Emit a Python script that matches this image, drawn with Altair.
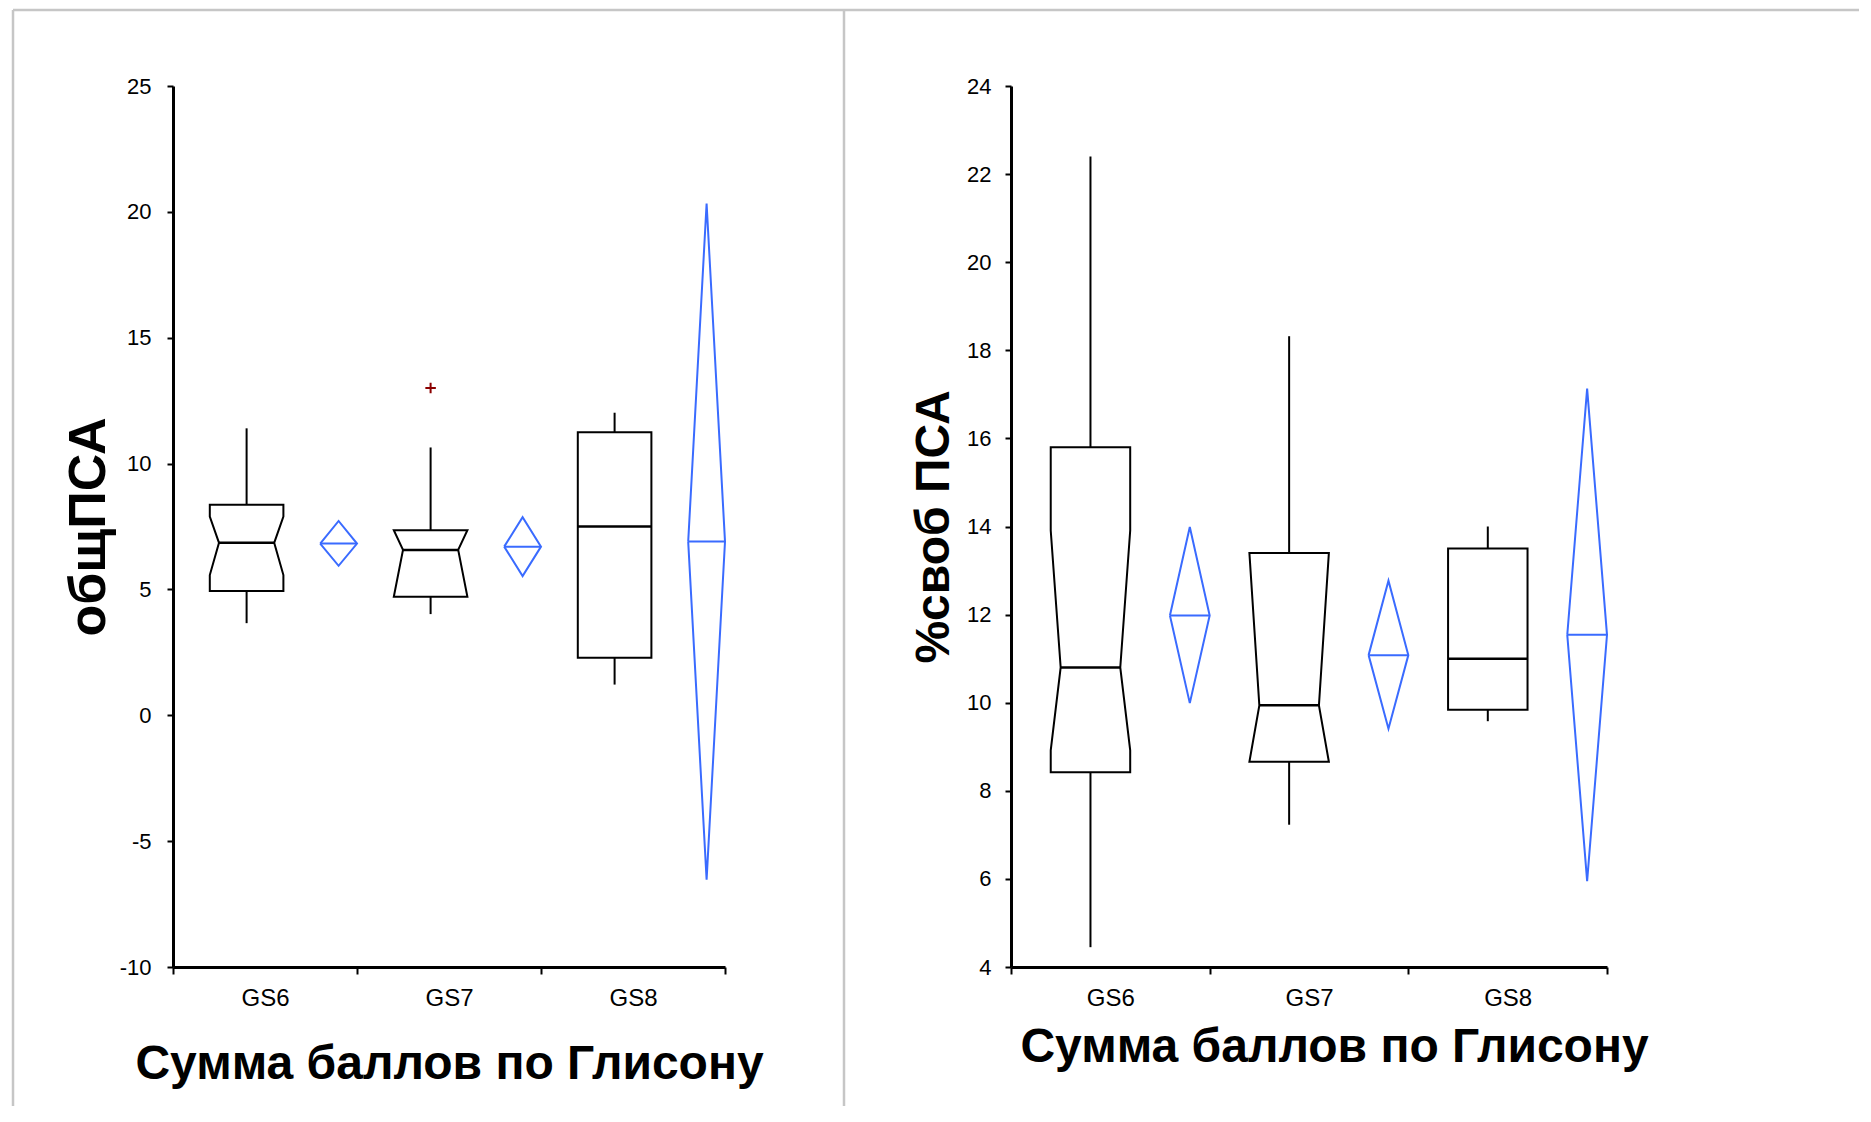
import altair as alt
import pandas as pd

FONT = "Liberation Sans"
BLUE = "#3a6bff"
DARKRED = "#8b0000"
FRAME = "#c6c6c6"

categories = ["GS6", "GS7", "GS8"]
x_title = "Сумма баллов по Глисону"

# ---- Panel 1: общПСА ----
tot_title = "общПСА"
tot_ticks = [-10, -5, 0, 5, 10, 15, 20, 25]
tot_domain = [-10, 25]
tot_q1 = [4.94, 4.71, 2.29]
tot_q3 = [8.36, 7.35, 11.24]
tot_median = [6.85, 6.57, 7.50]
tot_notch_lo = [5.57, 4.71, 7.50]
tot_notch_hi = [7.89, 7.35, 7.50]
tot_notched = [True, True, False]
tot_whisker_lo = [3.66, 4.02, 1.22]
tot_whisker_hi = [11.40, 10.64, 12.02]
tot_mean = [6.82, 6.70, 6.90]
tot_ci_lo = [5.94, 5.53, -6.53]
tot_ci_hi = [7.72, 7.87, 20.33]
tot_outlier_cat = ["GS7"]
tot_outlier_val = [13.0]

# ---- Panel 2: %своб ПСА ----
free_title = "%своб ПСА"
free_ticks = [4, 6, 8, 10, 12, 14, 16, 18, 20, 22, 24]
free_domain = [4, 24]
free_q1 = [8.42, 8.66, 9.84]
free_q3 = [15.80, 13.40, 13.50]
free_median = [10.80, 9.94, 11.00]
free_notch_lo = [8.92, 8.66, 11.00]
free_notch_hi = [13.91, 13.40, 11.00]
free_notched = [True, True, False]
free_whisker_lo = [4.45, 7.23, 9.58]
free_whisker_hi = [22.40, 18.32, 14.00]
free_mean = [11.98, 11.08, 11.54]
free_ci_lo = [9.99, 9.41, 5.95]
free_ci_hi = [13.99, 12.77, 17.13]
free_outlier_cat = []
free_outlier_val = []

# layout fractions within each category band
BOX_L, BOX_C, BOX_R, NOTCH = 0.2, 0.4, 0.6, 0.05
DIA_L, DIA_C, DIA_R = 0.8, 0.9, 1.0


def dedupe(pts):
    out = []
    for p in pts:
        if not out or out[-1] != p:
            out.append(p)
    return out


def build_frames(q1, q3, med, nlo, nhi, notched, wlo, whi, mean, clo, chi, ocat, oval):
    poly, medl, whisk, dia, meanl = [], [], [], [], []
    for i, c in enumerate(categories):
        L, C, R = i + BOX_L, i + BOX_C, i + BOX_R
        if notched[i]:
            pts = [(C, q1[i]), (L, q1[i]), (L, nlo[i]), (L + NOTCH, med[i]), (L, nhi[i]),
                   (L, q3[i]), (R, q3[i]), (R, nhi[i]), (R - NOTCH, med[i]), (R, nlo[i]),
                   (R, q1[i]), (C, q1[i])]
            medl.append({"cat": c, "x1": L + NOTCH, "x2": R - NOTCH, "y": med[i]})
        else:
            pts = [(C, q1[i]), (L, q1[i]), (L, q3[i]), (R, q3[i]), (R, q1[i]), (C, q1[i])]
            medl.append({"cat": c, "x1": L, "x2": R, "y": med[i]})
        for k, (x, y) in enumerate(dedupe(pts)):
            poly.append({"cat": c, "k": k, "x": x, "y": y})
        whisk.append({"cat": c, "x": C, "y1": q3[i], "y2": whi[i]})
        whisk.append({"cat": c, "x": C, "y1": q1[i], "y2": wlo[i]})
        dpts = [(i + DIA_L, mean[i]), (i + DIA_C, chi[i]), (i + DIA_R, mean[i]),
                (i + DIA_C, clo[i]), (i + DIA_L, mean[i])]
        for k, (x, y) in enumerate(dpts):
            dia.append({"cat": c, "k": k, "x": x, "y": y})
        meanl.append({"cat": c, "x1": i + DIA_L, "x2": i + DIA_R, "y": mean[i]})
    outl = [{"x": categories.index(c) + BOX_C, "y": v} for c, v in zip(ocat, oval)]
    return (pd.DataFrame(poly), pd.DataFrame(medl), pd.DataFrame(whisk),
            pd.DataFrame(dia), pd.DataFrame(meanl), pd.DataFrame(outl, columns=["x", "y"]))


def panel(width, height, ytitle, yticks, ydomain, stats, ytitle_size, ytitle_x,
          ylabel_pad, xtitle_x, xtitle_y, frame_rules):
    poly, medl, whisk, dia, meanl, outl = build_frames(*stats)
    xvals = [0, 0.5, 1, 1.5, 2, 2.5, 3]
    label_expr = " : ".join(
        [f"datum.value == {i + 0.5} ? '{c}'" for i, c in enumerate(categories)]) + " : ''"
    x_axis = alt.Axis(
        values=xvals, labelExpr=label_expr, grid=False,
        tickOpacity={"condition": {"test": "datum.value % 1 != 0", "value": 0}, "value": 1},
        tickSize=7, tickWidth=2, tickColor="black", domainColor="black", domainWidth=3,
        labelFont=FONT, labelFontSize=24, labelColor="black", labelBaseline="alphabetic",
        labelPadding=31, labelOverlap=False, labelFlush=False, labelLimit=500,
        title=x_title, titleFont=FONT, titleFontSize=48, titleFontWeight="bold",
        titleColor="black", titleX=xtitle_x, titleY=xtitle_y, titleBaseline="alphabetic",
        titleAlign="center", titleLimit=2000)
    y_axis = alt.Axis(
        values=yticks, labelExpr="toString(datum.value)", grid=False, tickSize=6,
        tickWidth=2, tickColor="black",
        domainColor="black", domainWidth=3, labelFont=FONT, labelFontSize=22,
        labelColor="black", labelPadding=ylabel_pad, labelOverlap=False, labelFlush=False,
        title=ytitle, titleFont=FONT, titleFontSize=ytitle_size, titleFontWeight="bold",
        titleColor="black", titleAngle=270, titleX=ytitle_x, titleY=height / 2,
        titleBaseline="alphabetic", titleAlign="center", titleLimit=2000)
    xs = alt.Scale(domain=[0, 3], nice=False, zero=False)
    ys = alt.Scale(domain=ydomain, nice=False, zero=False)

    def X(f):
        return alt.X(f"{f}:Q", scale=xs, axis=x_axis)

    def Y(f):
        return alt.Y(f"{f}:Q", scale=ys, axis=y_axis)

    boxes = alt.Chart(poly).mark_line(color="black", strokeWidth=2).encode(
        x=X("x"), y=Y("y"), detail="cat:N", order="k:Q")
    medians = alt.Chart(medl).mark_rule(color="black", strokeWidth=2.5).encode(
        x=X("x1"), x2="x2", y=Y("y"))
    whiskers = alt.Chart(whisk).mark_rule(color="black", strokeWidth=2).encode(
        x=X("x"), y=Y("y1"), y2="y2")
    diamonds = alt.Chart(dia).mark_line(color=BLUE, strokeWidth=2).encode(
        x=X("x"), y=Y("y"), detail="cat:N", order="k:Q")
    means = alt.Chart(meanl).mark_rule(color=BLUE, strokeWidth=2).encode(
        x=X("x1"), x2="x2", y=Y("y"))
    layers = [boxes, medians, whiskers, diamonds, means]
    if len(outl):
        layers.append(alt.Chart(outl).mark_point(
            shape="M-1,0L1,0M0,-1L0,1", filled=False, color=DARKRED, strokeWidth=2,
            size=110, opacity=1).encode(x=X("x"), y=Y("y")))
    one = pd.DataFrame({"a": [0]})
    for (x1, x2, y1, y2) in frame_rules:
        layers.append(alt.Chart(one).mark_rule(color=FRAME, strokeWidth=2.5).encode(
            x=alt.value(x1), x2=alt.value(x2), y=alt.value(y1), y2=alt.value(y2)))
    return alt.layer(*layers).properties(
        width=width, height=height,
        view=alt.ViewBackground(stroke="transparent", strokeWidth=0))


H = 881
left = panel(
    552, H, tot_title, tot_ticks, tot_domain,
    (tot_q1, tot_q3, tot_median, tot_notch_lo, tot_notch_hi, tot_notched,
     tot_whisker_lo, tot_whisker_hi, tot_mean, tot_ci_lo, tot_ci_hi,
     tot_outlier_cat, tot_outlier_val),
    52, -69, 16, 276, 111,
    [(-160, -160, -76, 1020), (-160, 671, -76, -76), (671, 671, -76, 1020)])

right = panel(
    596, H, free_title, free_ticks, free_domain,
    (free_q1, free_q3, free_median, free_notch_lo, free_notch_hi, free_notched,
     free_whisker_lo, free_whisker_hi, free_mean, free_ci_lo, free_ci_hi,
     free_outlier_cat, free_outlier_val),
    48, -63, 14, 323, 94,
    [(-167, 848, -76, -76)])

chart = alt.hconcat(left, right, spacing=286, bounds="flush").properties(
    padding={"left": 3, "top": 0, "right": 0, "bottom": 0}
).configure_view(stroke=None, strokeWidth=0).configure(background="white")

chart.save("out.html", embed_options={"renderer": "svg", "actions": False})
